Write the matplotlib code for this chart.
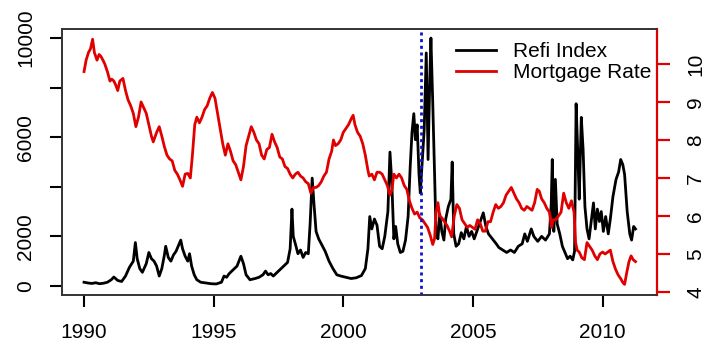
import matplotlib
matplotlib.use("Agg")
import matplotlib.pyplot as plt
from matplotlib.lines import Line2D

plt.rcParams['font.family'] = ['Liberation Sans', 'DejaVu Sans']

# refi index (left axis)
refi_years = [1990.00, 1990.15, 1990.30, 1990.45, 1990.60, 1990.75, 1990.90, 1991.05, 1991.15, 1991.30,
              1991.45, 1991.60, 1991.75, 1991.90, 1991.98, 1992.05, 1992.15, 1992.25, 1992.40, 1992.50,
              1992.60, 1992.70, 1992.80, 1992.90, 1993.00, 1993.10, 1993.15, 1993.25, 1993.35, 1993.45,
              1993.55, 1993.65, 1993.73, 1993.80, 1993.90, 1994.00, 1994.07, 1994.15, 1994.25, 1994.35,
              1994.50, 1994.70, 1994.90, 1995.10, 1995.30, 1995.40, 1995.50, 1995.60, 1995.75, 1995.90,
              1996.05, 1996.15, 1996.25, 1996.40, 1996.60, 1996.75, 1996.90, 1997.00, 1997.10, 1997.20,
              1997.30, 1997.45, 1997.60, 1997.75, 1997.85, 1997.95, 1998.02, 1998.07, 1998.15, 1998.25,
              1998.35, 1998.45, 1998.55, 1998.65, 1998.72, 1998.80, 1998.87, 1998.95, 1999.05, 1999.15,
              1999.30, 1999.45, 1999.60, 1999.75, 1999.90, 2000.10, 2000.30, 2000.50, 2000.70, 2000.85,
              2000.95, 2001.02, 2001.10, 2001.20, 2001.30, 2001.40, 2001.50, 2001.60, 2001.72, 2001.80,
              2001.87, 2001.95, 2002.02, 2002.10, 2002.20, 2002.30, 2002.40, 2002.50, 2002.58, 2002.65,
              2002.72, 2002.78, 2002.85, 2002.92, 2002.97, 2003.05, 2003.12, 2003.20, 2003.27, 2003.34,
              2003.38, 2003.45, 2003.52, 2003.58, 2003.65, 2003.72, 2003.80, 2003.88, 2003.95, 2004.05,
              2004.15, 2004.20, 2004.26, 2004.35, 2004.45, 2004.55, 2004.65, 2004.75, 2004.85, 2004.95,
              2005.05, 2005.15, 2005.25, 2005.40, 2005.50, 2005.60, 2005.75, 2005.90, 2006.00, 2006.15,
              2006.30, 2006.45, 2006.60, 2006.75, 2006.90, 2007.00, 2007.10, 2007.25, 2007.35, 2007.50,
              2007.65, 2007.80, 2007.95, 2008.02, 2008.06, 2008.12, 2008.18, 2008.25, 2008.35, 2008.45,
              2008.55, 2008.65, 2008.75, 2008.85, 2008.92, 2008.98, 2009.05, 2009.10, 2009.18, 2009.25,
              2009.32, 2009.40, 2009.48, 2009.55, 2009.65, 2009.72, 2009.80, 2009.88, 2009.95, 2010.03,
              2010.12, 2010.22, 2010.30, 2010.40, 2010.52, 2010.62, 2010.70, 2010.78, 2010.85, 2010.95,
              2011.05, 2011.12, 2011.20, 2011.27]
refi_values = [150, 120, 100, 130, 90, 110, 150, 250, 360, 220,
               180, 400, 750, 1000, 1750, 1100, 700, 550, 900, 1350,
               1100, 1000, 800, 400, 700, 1250, 1600, 1150, 1000, 1250,
               1400, 1650, 1850, 1500, 1200, 1000, 1300, 800, 450, 250,
               150, 120, 90, 80, 150, 400, 350, 500, 650, 800,
               1200, 900, 450, 250, 300, 350, 450, 600, 450, 500,
               400, 550, 700, 850, 950, 1500, 3100, 2000, 1700, 1300,
               1450, 1150, 1350, 1300, 2500, 4350, 3300, 2200, 1900, 1700,
               1400, 1000, 700, 450, 400, 350, 300, 330, 420, 700,
               1500, 2800, 2300, 2700, 2450, 1600, 1500, 2000, 3000, 5400,
               4200, 1900, 2400, 1700, 1350, 1400, 1850, 2800, 4800, 6200,
               6950, 5900, 6500, 4500, 3750, 5100, 6300, 9400, 5100, 8500,
               10000, 7400, 4500, 2100, 1900, 2900, 2200, 1850, 2700, 3200,
               3500, 5000, 2100, 1600, 1700, 2150, 1900, 2400, 2000, 2200,
               1900, 2200, 2500, 2950, 2400, 2100, 1900, 1700, 1550, 1450,
               1350, 1450, 1350, 1600, 1700, 2100, 1800, 2300, 2000, 1800,
               2000, 1850, 2100, 3300, 5100, 2200, 4300, 2500, 2100, 1600,
               1350, 1100, 1200, 1050, 1400, 7350, 5200, 3500, 6800, 5500,
               3200, 2300, 1900, 2500, 3350, 2300, 3100, 2600, 3000, 2200,
               2800, 2100, 2700, 3600, 4300, 4600, 5100, 4900, 4500, 3000,
               2100, 1850, 2400, 2300]

# 30y mortgage rate (right axis)
rate_years = [1990.00, 1990.08, 1990.17, 1990.25, 1990.33, 1990.40, 1990.50, 1990.58, 1990.65, 1990.73,
              1990.80, 1990.90, 1991.00, 1991.07, 1991.15, 1991.22, 1991.30, 1991.38, 1991.50, 1991.60,
              1991.70, 1991.80, 1991.90, 1992.00, 1992.10, 1992.20, 1992.30, 1992.40, 1992.50, 1992.60,
              1992.67, 1992.80, 1992.90, 1993.00, 1993.10, 1993.20, 1993.30, 1993.40, 1993.50, 1993.60,
              1993.70, 1993.80, 1993.90, 1994.00, 1994.10, 1994.18, 1994.27, 1994.35, 1994.45, 1994.55,
              1994.65, 1994.75, 1994.85, 1994.95, 1995.05, 1995.15, 1995.25, 1995.35, 1995.45, 1995.55,
              1995.65, 1995.75, 1995.85, 1995.95, 1996.05, 1996.15, 1996.25, 1996.35, 1996.45, 1996.55,
              1996.65, 1996.75, 1996.85, 1996.95, 1997.05, 1997.15, 1997.25, 1997.35, 1997.45, 1997.55,
              1997.65, 1997.75, 1997.85, 1997.95, 1998.05, 1998.15, 1998.25, 1998.35, 1998.45, 1998.55,
              1998.65, 1998.75, 1998.85, 1998.95, 1999.05, 1999.15, 1999.25, 1999.35, 1999.45, 1999.55,
              1999.62, 1999.70, 1999.80, 1999.90, 2000.00, 2000.10, 2000.20, 2000.30, 2000.38, 2000.45,
              2000.55, 2000.65, 2000.75, 2000.85, 2000.95, 2001.00, 2001.10, 2001.20, 2001.30, 2001.40,
              2001.50, 2001.60, 2001.70, 2001.80, 2001.88, 2001.95, 2002.05, 2002.15, 2002.25, 2002.35,
              2002.45, 2002.55, 2002.65, 2002.75, 2002.85, 2002.95, 2003.05, 2003.15, 2003.25, 2003.35,
              2003.45, 2003.52, 2003.58, 2003.65, 2003.72, 2003.80, 2003.90, 2004.00, 2004.10, 2004.18,
              2004.28, 2004.38, 2004.48, 2004.58, 2004.68, 2004.78, 2004.88, 2004.98, 2005.08, 2005.18,
              2005.28, 2005.38, 2005.48, 2005.58, 2005.68, 2005.78, 2005.88, 2005.98, 2006.08, 2006.18,
              2006.28, 2006.38, 2006.48, 2006.58, 2006.68, 2006.78, 2006.88, 2006.98, 2007.08, 2007.18,
              2007.28, 2007.38, 2007.48, 2007.56, 2007.65, 2007.75, 2007.85, 2007.95, 2008.03, 2008.10,
              2008.20, 2008.30, 2008.40, 2008.50, 2008.60, 2008.70, 2008.80, 2008.90, 2008.96, 2009.02,
              2009.10, 2009.20, 2009.30, 2009.40, 2009.50, 2009.60, 2009.70, 2009.80, 2009.90, 2010.00,
              2010.10, 2010.20, 2010.30, 2010.40, 2010.50, 2010.60, 2010.70, 2010.78, 2010.85, 2010.93,
              2011.02, 2011.10, 2011.18, 2011.27]
rate_values = [9.80, 10.10, 10.30, 10.40, 10.65, 10.30, 10.10, 10.25, 10.20, 10.10,
               10.00, 9.80, 9.55, 9.60, 9.55, 9.45, 9.30, 9.55, 9.62, 9.30,
               9.05, 8.90, 8.70, 8.35, 8.60, 9.00, 8.85, 8.70, 8.40, 8.10,
               7.95, 8.20, 8.35, 8.10, 7.82, 7.60, 7.50, 7.45, 7.20, 7.10,
               6.95, 6.78, 7.10, 7.12, 7.00, 7.60, 8.40, 8.60, 8.45, 8.60,
               8.80, 8.90, 9.10, 9.25, 9.10, 8.70, 8.30, 7.90, 7.60, 7.90,
               7.70, 7.45, 7.35, 7.15, 6.95, 7.30, 7.85, 8.10, 8.35, 8.20,
               8.00, 7.90, 7.60, 7.50, 7.75, 7.80, 8.15, 7.95, 7.80, 7.55,
               7.50, 7.30, 7.25, 7.10, 7.00, 7.10, 7.15, 7.05, 7.00, 6.90,
               6.85, 6.60, 6.75, 6.75, 6.80, 6.90, 7.05, 7.15, 7.50, 7.70,
               8.00, 7.85, 7.90, 8.00, 8.20, 8.30, 8.40, 8.55, 8.65, 8.40,
               8.20, 8.10, 7.90, 7.60, 7.20, 7.05, 7.10, 6.95, 7.15, 7.15,
               7.10, 6.95, 6.80, 6.55, 6.70, 7.10, 7.00, 7.10, 7.00, 6.80,
               6.70, 6.40, 6.20, 6.05, 6.10, 5.95, 5.90, 5.80, 5.70, 5.50,
               5.25, 5.40, 6.10, 6.35, 6.00, 5.95, 5.85, 5.75, 5.60, 5.45,
               6.00, 6.30, 6.20, 5.90, 5.80, 5.70, 5.75, 5.70, 5.65, 5.90,
               5.80, 5.60, 5.60, 5.85, 5.85, 6.10, 6.30, 6.20, 6.25, 6.35,
               6.55, 6.65, 6.75, 6.60, 6.45, 6.35, 6.20, 6.15, 6.25, 6.20,
               6.15, 6.35, 6.70, 6.65, 6.45, 6.35, 6.20, 6.10, 5.70, 5.90,
               5.90, 6.00, 6.10, 6.60, 6.35, 6.20, 6.40, 6.10, 5.30, 5.10,
               5.05, 4.90, 4.85, 5.30, 5.20, 5.10, 4.95, 4.85, 5.00, 5.05,
               5.00, 5.05, 5.10, 4.80, 4.60, 4.45, 4.35, 4.25, 4.20, 4.50,
               4.80, 4.95, 4.85, 4.80]

event_year = 2003.0
x_ticks = [1990, 1995, 2000, 2005, 2010]
refi_ticks = [0, 2000, 4000, 6000, 8000, 10000]
refi_labels = ['0', '2000', '', '6000', '', '10000']
rate_ticks = [4, 5, 6, 7, 8, 9, 10]

fig = plt.figure(figsize=(7.17, 3.46), dpi=100)
ax = fig.add_axes([62 / 717, 51 / 346, 595 / 717, 266 / 346])
ax2 = ax.twinx()

ax.plot(refi_years, refi_values, color='black', lw=2.0)
ax2.plot(rate_years, rate_values, color='#e00000', lw=2.0)
ax2.axvline(event_year, color='#1010d0', lw=2.0, ls=(0, (1.1, 1.3)))

ax.set_xlim(1989.15, 2012.1)
ax.set_ylim(-365, 10365)
ax2.set_ylim(3.92, 10.92)

ax.set_xticks(x_ticks)
ax.set_yticks(refi_ticks)
ax.set_yticklabels(refi_labels)
ax2.set_yticks(rate_ticks)

for s in ax.spines.values():
    s.set_linewidth(1.2)
    s.set_color('#333333')
for name, s in ax2.spines.items():
    s.set_linewidth(1.2)
    s.set_color('#333333')
ax2.spines['right'].set_color('#e00000')
ax2.spines['right'].set_linewidth(1.6)

ax.tick_params(axis='x', length=8.5, width=1.5, pad=12, labelsize=15)
ax.tick_params(axis='y', length=8.5, width=1.5, pad=11, labelsize=15, labelrotation=90)
ax2.tick_params(axis='y', length=9, width=1.6, pad=12, labelsize=15, labelrotation=90,
                color='#e00000', labelcolor='black')
for lbl in ax.get_yticklabels() + ax2.get_yticklabels():
    lbl.set_va('center')

handles = [Line2D([], [], color='black', lw=2.0), Line2D([], [], color='#e00000', lw=2.0)]
ax2.legend(handles, ['Refi Index', 'Mortgage Rate'], loc='upper right',
           bbox_to_anchor=(0.99, 0.95), frameon=False, fontsize=15,
           handlelength=1.9, handletextpad=0.8, labelspacing=0.1,
           borderpad=0, borderaxespad=0)

fig.savefig('out.png', dpi=100)
